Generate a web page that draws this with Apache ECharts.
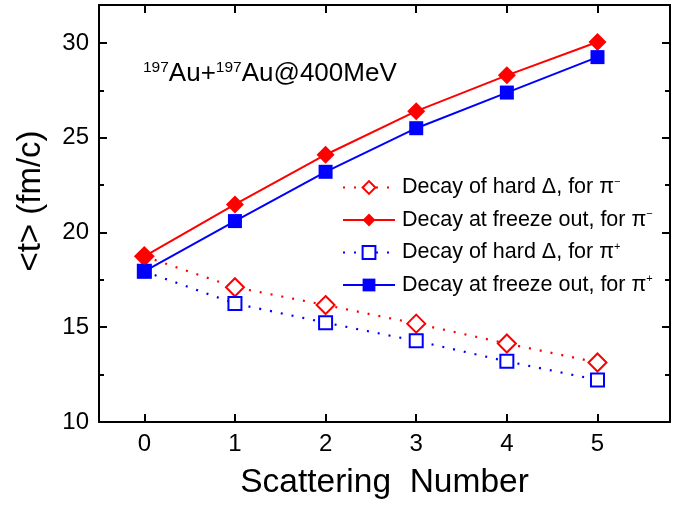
<!DOCTYPE html>
<html><head><meta charset="utf-8">
<script src="https://cdn.jsdelivr.net/npm/echarts@6/dist/echarts.min.js"></script>
<style>html,body{margin:0;padding:0;background:#fff}#c{width:688px;height:505px}</style>
</head><body><div id="c"></div>
<script>
const scatteringNumber = [0, 1, 2, 3, 4, 5];
const hardPiMinus   = [18.74, 17.11, 16.17, 15.19, 14.14, 13.14];
const freezePiMinus = [18.74, 21.48, 24.10, 26.40, 28.29, 30.05];
const hardPiPlus    = [17.95, 16.25, 15.24, 14.28, 13.20, 12.22];
const freezePiPlus  = [17.95, 20.60, 23.20, 25.50, 27.38, 29.25];
const xTicks = [0, 1, 2, 3, 4, 5];
const seriesNames = ['hardMinus', 'freezeMinus', 'hardPlus', 'freezePlus'];
const legendTexts = {
  hardMinus: '{t|Decay of hard Δ, for π}{sup|−}',
  freezeMinus: '{t|Decay at freeze out, for π}{sup|−}',
  hardPlus: '{t|Decay of hard Δ, for π}{sup|+}',
  freezePlus: '{t|Decay at freeze out, for π}{sup|+}'
};
const pair = arr => scatteringNumber.map((x, i) => [x, arr[i]]);
const chart = echarts.init(document.getElementById('c'), null, {renderer: 'canvas'});
const F = 'Liberation Sans, Arial, sans-serif';
const axisLine = {show: true, onZero: false, lineStyle: {color: '#000', width: 2}};
const tickStyle = {color: '#000', width: 2};
chart.setOption({
  backgroundColor: '#fff',
  animation: false,
  grid: {left: 99, top: 5, right: 18, bottom: 80, containLabel: false},
  legend: {
    orient: 'vertical', left: 337, top: 171, itemGap: 10,
    itemWidth: 52, itemHeight: 16,
    data: seriesNames,
    formatter: n => legendTexts[n],
    textStyle: {
      fontFamily: F, fontSize: 21.5, color: '#000', padding: [0, 0, 0, 2],
      rich: {
        t: {fontFamily: F, fontSize: 21.5, lineHeight: 22, color: '#000'},
        sup: {fontFamily: F, fontSize: 11, color: '#000', verticalAlign: 'top', padding: [0, 0, 12, 0]}
      }
    }
  },
  xAxis: [{
    type: 'value', min: -0.5, max: 5.8,
    axisLine: axisLine,
    splitLine: {show: false},
    axisTick: {show: true, inside: true, length: 8, lineStyle: tickStyle, customValues: xTicks},
    axisLabel: {fontFamily: F, fontSize: 24, color: '#000', margin: 10, customValues: xTicks},
    name: 'Scattering  Number', nameLocation: 'middle', nameGap: 44,
    nameTextStyle: {fontFamily: F, fontSize: 33.5, color: '#000'}
  }, {
    type: 'value', position: 'top', min: -0.5, max: 5.8,
    axisLine: axisLine, splitLine: {show: false},
    axisTick: {show: true, inside: true, length: 8, lineStyle: tickStyle, customValues: xTicks},
    axisLabel: {show: false}
  }],
  yAxis: [{
    type: 'value', min: 10, max: 32, interval: 5,
    axisLine: axisLine,
    splitLine: {show: false},
    axisTick: {show: true, inside: true, length: 8, lineStyle: tickStyle},
    minorTick: {show: true, splitNumber: 2, length: 5, lineStyle: tickStyle},
    axisLabel: {fontFamily: F, fontSize: 24, color: '#000', margin: 10,
      formatter: v => (v % 5 === 0 ? String(v) : '')}
  }, {
    type: 'value', position: 'right', min: 10, max: 32, interval: 5,
    axisLine: axisLine, splitLine: {show: false},
    axisTick: {show: true, inside: true, length: 8, lineStyle: tickStyle},
    minorTick: {show: true, splitNumber: 2, length: 5, lineStyle: tickStyle},
    axisLabel: {show: false}
  }],
  graphic: [{
    type: 'text', x: 31, y: 201, rotation: Math.PI / 2,
    style: {text: '<t> (fm/c)', fontFamily: F, fontSize: 33, fill: '#000', align: 'center', verticalAlign: 'middle'}
  }, {
    type: 'text', left: 143, top: 60,
    style: {
      text: '{s|197}{m|Au+}{s|197}{m|Au@400MeV}',
      rich: {
        m: {fontFamily: F, fontSize: 26, color: '#000'},
        s: {fontFamily: F, fontSize: 15.5, color: '#000', verticalAlign: 'top', padding: [0, 0, 11, 0]}
      }
    }
  }],
  series: [
    {name: 'hardMinus', type: 'line', data: pair(hardPiMinus), z: 2,
     symbol: 'emptyDiamond', symbolSize: 18,
     itemStyle: {color: '#ff0000', borderWidth: 1.3},
     lineStyle: {color: '#ff0000', width: 2.2, type: [2, 9]}},
    {name: 'hardPlus', type: 'line', data: pair(hardPiPlus), z: 2,
     symbol: 'emptyRect', symbolSize: 13,
     itemStyle: {color: '#0000ff', borderWidth: 1.3},
     lineStyle: {color: '#0000ff', width: 2.2, type: [2, 9]}},
    {name: 'freezeMinus', type: 'line', data: pair(freezePiMinus), z: 3,
     symbol: 'diamond', symbolSize: 18,
     itemStyle: {color: '#ff0000'},
     lineStyle: {color: '#ff0000', width: 2}},
    {name: 'freezePlus', type: 'line', data: pair(freezePiPlus), z: 3,
     symbol: 'rect', symbolSize: 14,
     itemStyle: {color: '#0000ff'},
     lineStyle: {color: '#0000ff', width: 2}}
  ]
});
</script></body></html>
